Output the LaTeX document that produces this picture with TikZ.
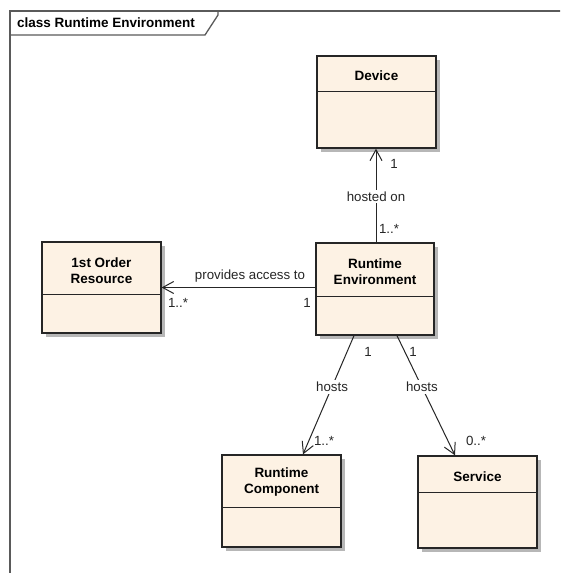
\documentclass[tikz,border=0pt]{standalone}
\usepackage{fontspec}
\setmainfont{Liberation Sans}
\usetikzlibrary{arrows.meta,shadows}
\definecolor{classfill}{RGB}{253,242,228}
\definecolor{framegray}{RGB}{90,90,90}
\tikzset{
  classbox/.style={draw=black!85, line width=1.3pt, fill=classfill, inner sep=0pt,
    drop shadow={shadow xshift=3.5pt, shadow yshift=-3.5pt, fill=black!35, opacity=0.8}},
  classname/.style={font=\fontsize{13.5}{16}\selectfont\bfseries, align=center, inner sep=0pt},
  divider/.style={draw=black!85, line width=1.3pt},
  assoc/.style={draw=black!85, line width=1pt, -{Straight Barb[length=11pt,width=12pt,line width=1pt]}},
  lbl/.style={font=\fontsize{13.3}{15}\selectfont, text=black!85, inner sep=1pt},
  lblw/.style={lbl, fill=white, inner sep=2pt}
}
\begin{document}
\begin{tikzpicture}[x=1pt,y=-1pt]
\useasboundingbox (0,0) rectangle (560,573);
\fill[white] (0,0) rectangle (560,573);

% diagram frame with its name tab
\begin{scope}
\clip (0,0) rectangle (560,573);
\draw[framegray, line width=2pt] (10,590) -- (10,11) -- (580,11);
\draw[framegray, line width=1.3pt] (10,35) -- (205,35) -- (218,15) -- (218,11);
\end{scope}
\node[classname, anchor=west] (title) at (17,23) {class Runtime Environment};

% classes
\node[classbox, minimum width=119pt, minimum height=92pt] (dev) at (376.5,102) {};
\draw[divider] ([yshift=-36pt]dev.north west) -- ([yshift=-36pt]dev.north east);
\node[classname] (devname) at (376.5,76) {Device};

\node[classbox, minimum width=118pt, minimum height=92pt] (re) at (375,289) {};
\draw[divider] ([yshift=-54pt]re.north west) -- ([yshift=-54pt]re.north east);
\node[classname] (rename) at (375,272) {Runtime\\Environment};

\node[classbox, minimum width=119pt, minimum height=91pt] (res) at (101.5,287.5) {};
\draw[divider] ([yshift=-53pt]res.north west) -- ([yshift=-53pt]res.north east);
\node[classname] (resname) at (101.5,271) {1st Order\\Resource};

\node[classbox, minimum width=119pt, minimum height=92pt] (rc) at (281.5,501) {};
\draw[divider] ([yshift=-53pt]rc.north west) -- ([yshift=-53pt]rc.north east);
\node[classname] (rcname) at (281.5,482) {Runtime\\Component};

\node[classbox, minimum width=119pt, minimum height=92pt] (svc) at (477.5,502) {};
\draw[divider] ([yshift=-37pt]svc.north west) -- ([yshift=-37pt]svc.north east);
\node[classname] (svcname) at (477.5,477) {Service};

% associations
\draw[assoc] (re.north -| 376,0) -- node[lblw, pos=0.49] (hon) {hosted on} (dev.south -| 376,0);
\node[lbl] (m1) at (394,164) {1};
\node[lbl] (m2) at (389,229) {1..*};

\draw[assoc] (re.west |- res.east) -- (res.east);
\node[lbl] (pat) at (250,276) {provides access to};
\node[lbl] (m3) at (178,303) {1..*};
\node[lbl] (m4) at (307,303) {1};

\draw[assoc] ([xshift=-21pt]re.south) -- node[lblw, pos=0.43] (h1) {hosts} ([xshift=21.5pt]rc.north);
\node[lbl] (m5) at (368,352) {1};
\node[lbl] (m6) at (324,441) {1..*};

\draw[assoc] ([xshift=22pt]re.south) -- node[lblw, pos=0.43] (h2) {hosts} ([xshift=-22.5pt]svc.north);
\node[lbl] (m7) at (413,352) {1};
\node[lbl] (m8) at (476,441) {0..*};
\end{tikzpicture}
\end{document}
